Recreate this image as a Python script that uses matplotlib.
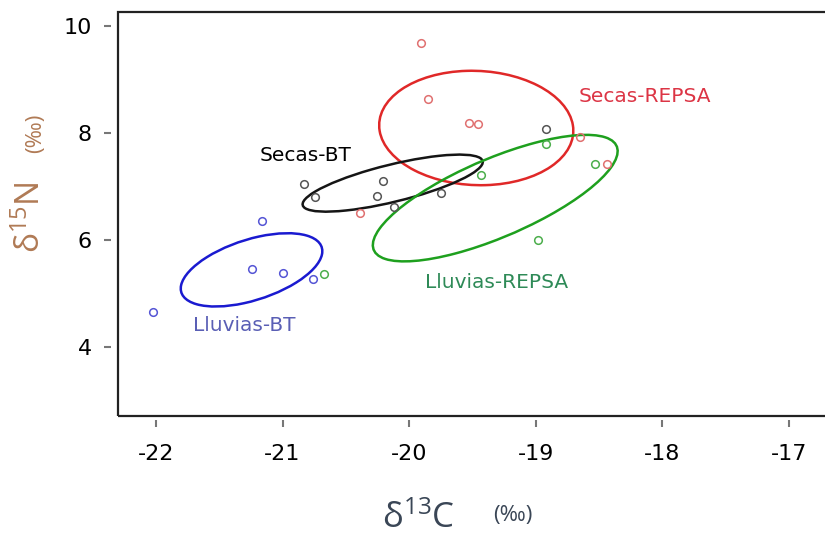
import matplotlib
matplotlib.use('Agg')
import matplotlib.pyplot as plt
from matplotlib.patches import Ellipse, Rectangle

plt.rcParams['axes.unicode_minus'] = False

# groups: name, points (d13C, d15N), ellipse params in data units
groups = ['Secas-REPSA', 'Secas-BT', 'Lluvias-REPSA', 'Lluvias-BT']

secas_repsa_x = [-19.91, -19.85, -19.53, -19.46, -20.39, -18.65, -18.44]
secas_repsa_y = [9.67, 8.63, 8.19, 8.16, 6.51, 7.93, 7.42]
secas_bt_x = [-20.83, -20.74, -20.21, -20.25, -20.12, -19.75, -18.92]
secas_bt_y = [7.04, 6.81, 7.10, 6.82, 6.62, 6.88, 8.07]
lluvias_repsa_x = [-18.92, -18.53, -19.43, -18.98, -20.67]
lluvias_repsa_y = [7.80, 7.42, 7.21, 6.00, 5.36]
lluvias_bt_x = [-21.16, -21.24, -21.00, -20.76, -22.02]
lluvias_bt_y = [6.36, 5.46, 5.39, 5.27, 4.66]

# standard ellipses: center x, center y, width, height, angle
ell_secas_repsa = [-19.47, 8.09, 1.53, 2.14, 4]
ell_secas_bt = [-20.13, 7.06, 1.67, 0.61, 34.2]
ell_lluvias_repsa = [-19.32, 6.78, 2.86, 1.07, 52.6]
ell_lluvias_bt = [-21.245, 5.44, 1.55, 0.85, 55.9]

# label positions
lab_x = [-18.14, -20.82, -19.31, -21.30]
lab_y = [8.67, 7.58, 5.20, 4.41]

pts_x = [secas_repsa_x, secas_bt_x, lluvias_repsa_x, lluvias_bt_x]
pts_y = [secas_repsa_y, secas_bt_y, lluvias_repsa_y, lluvias_bt_y]
ells = [ell_secas_repsa, ell_secas_bt, ell_lluvias_repsa, ell_lluvias_bt]
pt_cols = ['#e07070', '#555555', '#4cae4c', '#5555d5']
ell_cols = ['#e02828', '#151515', '#1ea01e', '#1a1ad0']
txt_cols = ['#dc3545', '#000000', '#2e8a57', '#5a5fb5']

fig = plt.figure(figsize=(8.25, 5.37), dpi=100)
ax = fig.add_axes([0.143, 0.2253, 0.867, 0.7527])

for i in range(len(groups)):
    ax.plot(pts_x[i], pts_y[i], 'o', mfc='none', mec=pt_cols[i], ms=5.5, mew=1.1)
    e = ells[i]
    ax.add_patch(Ellipse((e[0], e[1]), e[2], e[3], angle=e[4], fill=False,
                         ec=ell_cols[i], lw=1.8))
    ax.text(lab_x[i], lab_y[i], groups[i], color=txt_cols[i], fontsize=14.5,
            ha='center', va='center')

ax.set_xlim(-22.30, -16.65)
ax.set_ylim(2.71, 10.26)
ax.set_xticks([-22, -21, -20, -19, -18, -17])
ax.set_yticks([4, 6, 8, 10])

for s in ax.spines.values():
    s.set_visible(False)
ax.spines['left'].set_position(('outward', 5))
ax.spines['bottom'].set_position(('outward', 3))
ax.add_patch(Rectangle((0, 0), 1, 1, transform=ax.transAxes, fill=False,
                       lw=1.6, ec='#222222', clip_on=False))
ax.tick_params(length=5, width=1.5, color='#777777', labelsize=16)
ax.tick_params(axis='x', pad=12)
ax.tick_params(axis='y', pad=9)

# axis titles
fnt = ['Open Sans', 'DejaVu Sans']
fig.text(0.507, 1 - 519 / 537, r'$\mathregular{δ^{13}C}$', fontsize=25,
         family=fnt, color='#3a4656', ha='center', va='center')
fig.text(0.621, 1 - 516 / 537, '(‰)', fontsize=16,
         family=fnt, color='#3a4656', ha='center', va='center')
fig.text(0.038, 1 - 217 / 537, r'$\mathregular{δ^{15}N}$', fontsize=24, rotation=90,
         family=fnt, color='#b07a55', ha='center', va='center')
fig.text(0.043, 1 - 133 / 537, '(‰)', fontsize=16, rotation=90,
         family=fnt, color='#b07a55', ha='center', va='center')

fig.savefig('out.png', dpi=100)
